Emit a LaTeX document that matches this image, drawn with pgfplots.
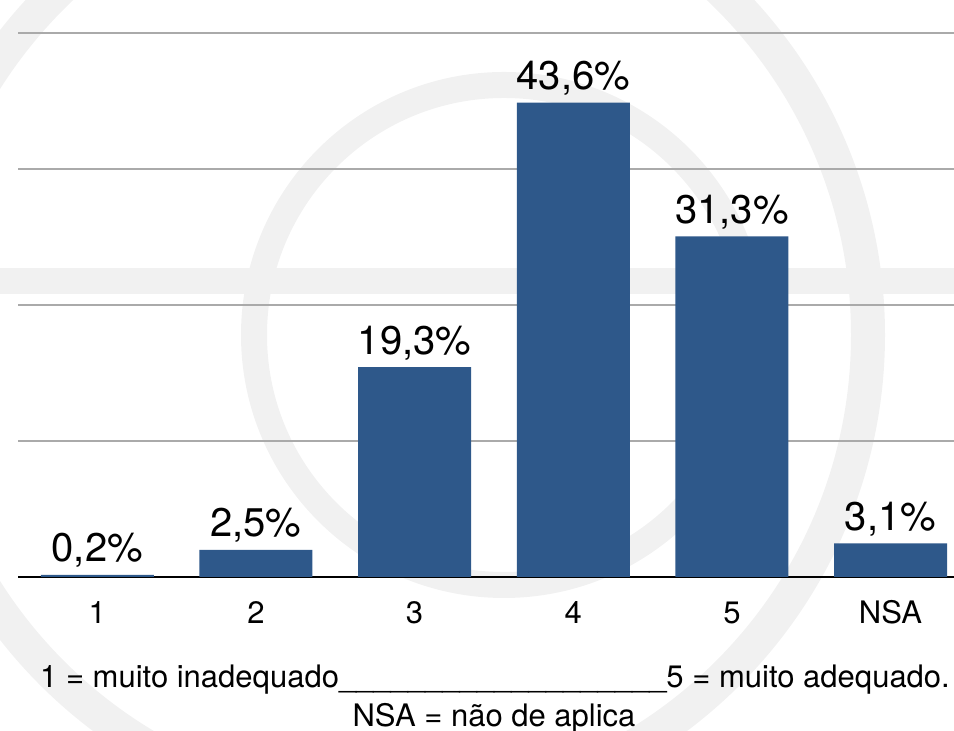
\documentclass[border=0pt]{standalone}
\usepackage{fontspec}
\setmainfont{TeX Gyre Heros}
\usepackage{pgfplots}
\pgfplotsset{compat=1.18}
\definecolor{barblue}{RGB}{46,88,138}
\definecolor{wmgray}{RGB}{241,241,241}
\definecolor{gridgray}{RGB}{170,170,170}

\begin{document}
\begin{tikzpicture}
\useasboundingbox (-9pt,-77pt) rectangle (468pt,288.5pt);
% faint watermark behind the chart (pixel coordinates of the reference)
\begin{scope}[xshift=-9pt, yshift=288.5pt, x=0.5pt, y=-0.5pt]
  \draw[wmgray, line width=17pt] (390,335) circle[radius=478];
  \draw[wmgray, line width=13pt] (504,335) circle[radius=250];
  \draw[wmgray, line width=13pt] (0,281) -- (954,281);
\end{scope}
\begin{axis}[
    scale only axis,
    width=468pt, height=272pt,
    xmin=-0.5, xmax=5.4,
    ymin=0, ymax=50,
    ybar, bar width=56.5pt, bar shift=0pt,
    xtick=data,
    xticklabels={1,2,3,4,5,NSA},
    xtick style={draw=none},
    xticklabel style={font=\fontsize{15.5}{18}\selectfont, anchor=base, yshift=-19pt},
    ytick={0,12.5,25,37.5,50},
    yticklabels={},
    ytick style={draw=none},
    ymajorgrids,
    grid style={color=gridgray, line width=0.6pt},
    axis x line*=bottom,
    axis y line*=left,
    y axis line style={draw=none},
    x axis line style={black, line width=1.2pt, -},
    nodes near coords={\pgfmathprintnumber[fixed,fixed zerofill,precision=1,use comma,assume math mode=true]{\pgfplotspointmeta}\%},
    every node near coord/.append style={font=\fontsize{20}{24}\selectfont, black, anchor=base, inner sep=0pt, yshift=6.5pt},
    clip=false,
]
\addplot[fill=barblue, draw=none] coordinates {(0,0.2) (1,2.5) (2,19.3) (3,43.6) (4,31.3) (5,3.1)};
\end{axis}
\node[anchor=base, font=\fontsize{15.5}{18}\selectfont, inner sep=0pt] at (238.5pt,-55.5pt)
  {1 = muito inadequado\_\_\_\_\_\_\_\_\_\_\_\_\_\_\_\_\_\_\_5 = muito adequado.};
\node[anchor=base, font=\fontsize{15.5}{18}\selectfont, inner sep=0pt] at (238pt,-75pt)
  {NSA = não de aplica};
\end{tikzpicture}
\end{document}
